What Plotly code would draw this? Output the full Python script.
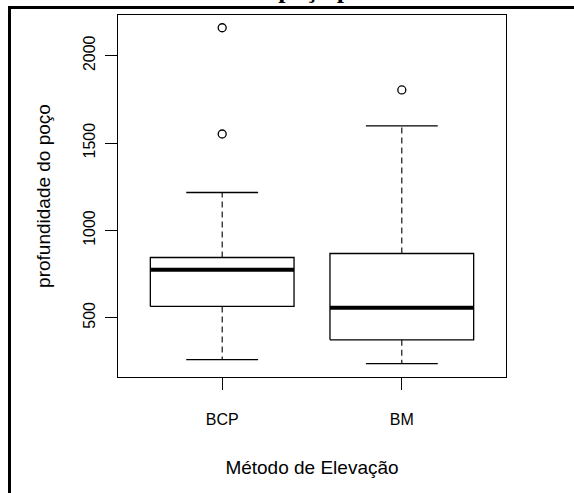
import plotly.graph_objects as go

groups = ["BCP", "BM"]
lower_whisker = [260, 237]
q1 = [565, 374]
median = [775, 557]
q3 = [845, 868]
upper_whisker = [1217, 1598]
outliers = {"BCP": [1552, 2160], "BM": [1804]}
yticks = [500, 1000, 1500, 2000]

W, H = 574, 493
L, R, T, B = 118, 68, 15, 116
pw, ph = W - L - R, H - T - B

def px2x(px):
    return (px - L) / pw

def px2y(py):
    return (H - B - py) / ph

fig = go.Figure()
half = 0.4
cap = 0.2
for i, g in enumerate(groups):
    c = i + 1
    fig.add_trace(go.Scatter(x=[c - half, c + half, c + half, c - half, c - half],
                             y=[q1[i], q1[i], q3[i], q3[i], q1[i]], mode="lines",
                             line=dict(color="black", width=1.3), hoverinfo="skip"))
    fig.add_trace(go.Scatter(x=[c, c, None, c, c],
                             y=[q3[i], upper_whisker[i], None, q1[i], lower_whisker[i]],
                             mode="lines", line=dict(color="black", width=1.1, dash="6px,4px"),
                             hoverinfo="skip"))
    fig.add_trace(go.Scatter(x=[c - cap, c + cap, None, c - cap, c + cap],
                             y=[upper_whisker[i], upper_whisker[i], None, lower_whisker[i], lower_whisker[i]],
                             mode="lines", line=dict(color="black", width=1.3), hoverinfo="skip"))
    fig.add_trace(go.Scatter(x=[c - half, c + half], y=[median[i], median[i]], mode="lines",
                             line=dict(color="black", width=4), hoverinfo="skip"))
    fig.add_trace(go.Scatter(x=[c] * len(outliers[g]), y=outliers[g], mode="markers",
                             marker=dict(symbol="circle-open", size=8, color="black",
                                         line=dict(width=1.3, color="black")),
                             hoverinfo="skip"))

font = dict(family="Liberation Sans, Arial, sans-serif", size=16, color="black")

fig.update_layout(
    width=W, height=H, showlegend=False,
    margin=dict(l=L, r=R, t=T, b=B, pad=0),
    paper_bgcolor="white", plot_bgcolor="white",
    font=font,
    xaxis=dict(range=[0.42, 2.58], tickvals=[1, 2], ticktext=groups, showgrid=False,
               zeroline=False, showline=True, mirror=True, linecolor="black", linewidth=1,
               ticks="outside", ticklen=12, tickwidth=1, tickcolor="black",
               ticklabelstandoff=16, tickfont=dict(size=16),
               title=dict(text="Método de Elevação", standoff=33)),
    yaxis=dict(range=[161, 2233], tickvals=yticks, showgrid=False, zeroline=False,
               showline=True, mirror=True, linecolor="black", linewidth=1,
               ticks="outside", ticklen=12, tickwidth=1, tickcolor="black", tickangle=-90,
               ticklabelstandoff=4, tickfont=dict(size=16),
               title=dict(text="profundidade do poço", standoff=24)),
)

# outer frame (document border)
fig.add_shape(type="line", xref="paper", yref="paper", x0=px2x(9.5), x1=px2x(574),
              y0=px2y(7.5), y1=px2y(7.5), line=dict(color="black", width=3))
fig.add_shape(type="line", xref="paper", yref="paper", x0=px2x(9.5), x1=px2x(9.5),
              y0=px2y(6), y1=px2y(495), line=dict(color="black", width=3))

# cut-off title (only descenders visible, as in the reference)
fig.add_annotation(text="<b>Profundidade do poço por Método</b>", xref="paper", yref="paper",
                   x=px2x(84), y=px2y(4.5), xanchor="left", yanchor="bottom", showarrow=False,
                   font=dict(family="Liberation Serif, Times New Roman, serif", size=26, color="black"),
                   borderpad=0)

fig.write_html("out.html")
